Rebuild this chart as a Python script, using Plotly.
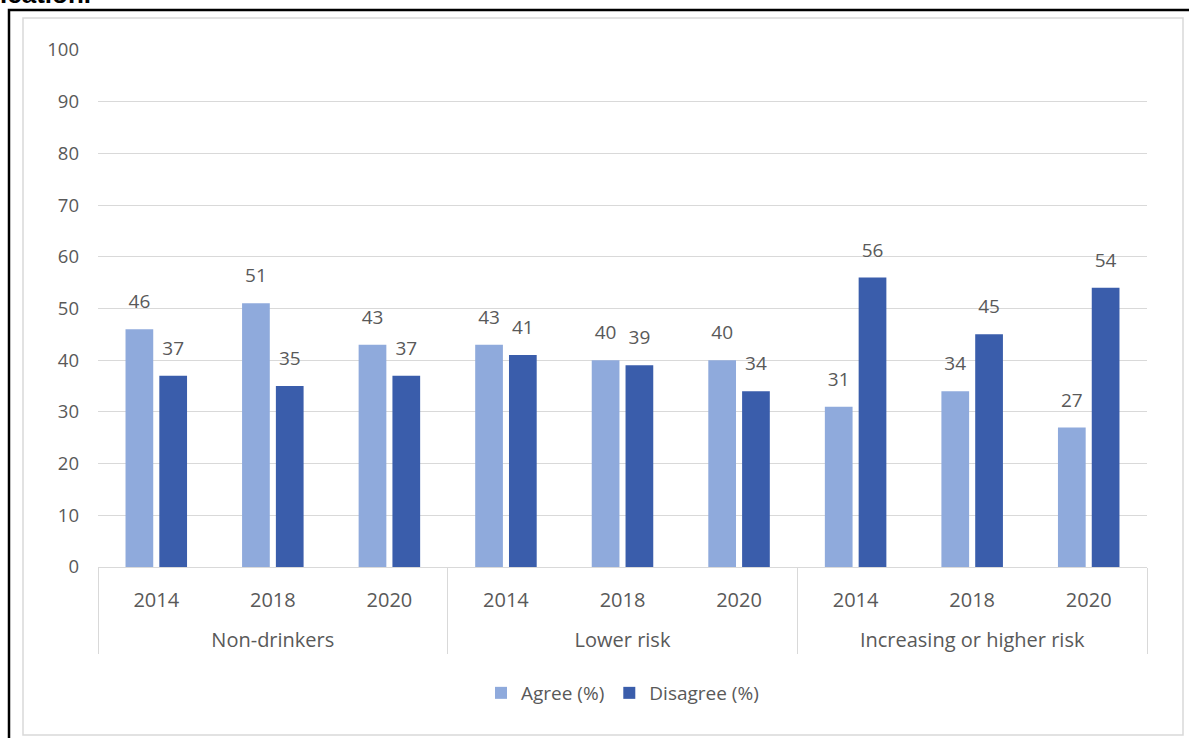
import plotly.graph_objects as go

groups = ["Non-drinkers", "Lower risk", "Increasing or higher risk"]
years = ["2014", "2018", "2020"]
agree = [46, 51, 43, 43, 40, 40, 31, 34, 27]
disagree = [37, 35, 37, 41, 39, 34, 56, 45, 54]
y_ticks = list(range(0, 101, 10))

W, H = 1189, 738
ML, MR, MT, MB = 98, 42, 50, 171
PW, PH = W - ML - MR, H - MT - MB

def px(x):
    return (x - ML) / PW

def py(y):
    return (H - MB - y) / PH

x_outer = ["<br>" + g for g in groups for _ in years]
x_inner = years * len(groups)
X = [x_outer, x_inner]

GRAY = "#595959"
FONT = "Open Sans, Segoe UI, sans-serif"
LABEL_LIFT = 2.3  # transparent spacer (axis units) that lifts data labels off the bars

fig = go.Figure()
for name, vals, color, grp in [("Agree (%)", agree, "#8FAADC", "a"),
                               ("Disagree (%)", disagree, "#3A5DAB", "d")]:
    fig.add_trace(go.Bar(
        name=name, x=X, y=vals, marker=dict(color=color, line=dict(width=0)),
        offsetgroup=grp, hoverinfo="x+y",
    ))
    fig.add_trace(go.Bar(
        x=X, y=[LABEL_LIFT] * len(vals), base=vals, offsetgroup=grp,
        marker=dict(color="rgba(0,0,0,0)", line=dict(width=0)),
        showlegend=False, hoverinfo="skip",
        text=[str(v) for v in vals], textposition="outside",
        textfont=dict(size=19, color=GRAY, family=FONT), cliponaxis=False,
    ))

shapes = [
    dict(type="rect", xref="paper", yref="paper",
         x0=px(23), x1=px(1183), y0=py(735), y1=py(18),
         line=dict(color="#D9D9D9", width=1.5), layer="below"),
    dict(type="rect", xref="paper", yref="paper",
         x0=px(9), x1=px(1200), y0=py(760), y1=py(10),
         line=dict(color="black", width=2.5), layer="above"),
]

fig.update_layout(
    width=W, height=H,
    margin=dict(l=ML, r=MR, t=MT, b=MB),
    paper_bgcolor="white", plot_bgcolor="white",
    barmode="group", bargap=0.42, bargroupgap=0.18,
    font=dict(family=FONT, size=19, color=GRAY),
    showlegend=True,
    legend=dict(orientation="h", x=0.5, xanchor="center",
                y=py(693), yanchor="middle",
                font=dict(size=19, color=GRAY, family=FONT),
                itemwidth=30, tracegroupgap=0),
    shapes=shapes,
    annotations=[dict(text="<b>ication.</b>", xref="paper", yref="paper",
                      x=px(-2), y=py(-6), xanchor="left", yanchor="middle",
                      showarrow=False,
                      font=dict(family="Liberation Sans, Arial", size=26, color="black"))],
)
fig.update_yaxes(range=[0, 100], tickvals=y_ticks, showgrid=True,
                 gridcolor="#D9D9D9", gridwidth=1, zeroline=False,
                 showline=False, ticks="", ticklabelstandoff=18,
                 tickfont=dict(size=18.5, color=GRAY, family=FONT))
fig.update_xaxes(type="multicategory", showline=True, linecolor="#D9D9D9",
                 linewidth=1, showdividers=True, dividercolor="#D9D9D9",
                 dividerwidth=1, ticks="", showgrid=False,
                 ticklabelstandoff=15,
                 tickfont=dict(size=20, color=GRAY, family=FONT))

fig.write_html("out.html")
